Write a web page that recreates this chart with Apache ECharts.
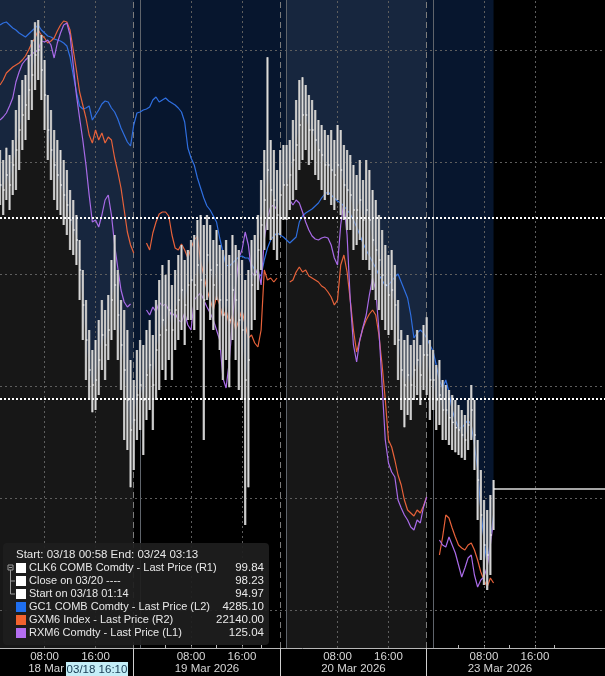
<!DOCTYPE html>
<html><head><meta charset="utf-8">
<script src="https://cdn.jsdelivr.net/npm/echarts@6/dist/echarts.min.js"></script>
<style>html,body{margin:0;padding:0;background:#000;}#c{width:605px;height:676px;}</style>
</head><body><div id="c"></div>
<script>
// ---- axis labels / categories ----
const dayKeys = ['03/18','03/19','03/20','03/23','03/24'];
const dateLabels = ['18 Mar 2026','19 Mar 2026','20 Mar 2026','23 Mar 2026',''];
const timeTickLabels = ['08:00','16:00'];
const minorTickTimes = ['00:00','04:00','08:00','12:00','16:00','20:00'];
const dateLabelTime = '10:30';
const bandRanges = [['03/18 01:00','03/18 23:00'],['03/20 00:00','03/20 23:00']];

// half-hour trading slots (17:00-18:00 break removed), 03/18 01:00 .. 03/24 04:00
const categories = [];
for (let k = 2; k <= 192; k++) {
  const t = k / 2, d = Math.floor(t / 23), h = t - 23 * d;
  const clock = h < 17 ? h : h + 1;
  const hh = Math.floor(clock), mm = (clock % 1) ? '30' : '00';
  categories.push(dayKeys[d] + ' ' + String(hh).padStart(2, '0') + ':' + mm);
}

// ---- series values ----
const clkHigh = [99.45,99.27,99.49,99.36,99.63,100.17,100.44,100.71,100.80,101.16,
101.43,101.75,101.79,101.52,101.07,100.44,100.17,99.81,99.63,99.45,
99.27,99.09,98.73,98.55,98.28,97.83,97.29,96.75,96.21,95.85,
96.03,96.39,96.75,96.57,96.84,97.47,97.92,97.29,96.75,96.57,
96.21,95.67,95.31,95.85,96.03,95.94,96.21,96.39,96.12,96.75,
97.11,97.38,97.20,97.47,97.02,97.29,97.56,97.74,97.47,97.65,
97.83,97.92,98.19,98.28,98.10,98.28,98.10,97.83,98.01,97.74,
97.65,97.83,97.56,97.92,97.74,97.65,97.47,97.11,97.29,97.83,
97.92,98.28,98.91,99.45,101.12,99.63,99.45,99.09,99.45,99.54,
99.54,99.63,99.99,100.35,100.71,100.76,100.62,100.44,100.35,100.17,
99.99,99.90,99.81,99.72,99.81,99.63,99.90,99.81,99.54,99.45,
99.36,99.18,99.00,99.27,98.91,99.27,99.09,98.73,98.55,98.28,
98.01,97.74,97.56,97.65,97.38,96.75,96.21,96.03,96.12,95.94,
96.03,96.21,95.94,96.30,96.44,96.03,95.85,95.58,95.67,95.31,
95.22,95.13,95.04,94.95,94.86,94.77,94.68,94.95,95.22,94.95,
94.23,93.69,93.15,92.97,93.24,93.51];
const clkLow = [98.46,98.28,98.55,98.37,98.64,98.73,99.09,99.45,99.63,99.99,
100.17,100.53,100.71,100.35,99.81,99.27,98.91,98.55,98.37,98.28,
98.10,97.92,97.65,97.56,97.38,96.75,96.03,95.31,94.95,94.73,
94.77,95.04,95.49,95.31,95.67,96.03,96.21,95.67,95.13,94.23,
94.05,93.38,93.69,94.23,94.41,93.96,94.59,94.77,94.41,94.95,
95.13,95.49,95.31,95.67,95.31,95.85,96.03,96.21,95.94,96.39,
96.39,96.21,96.57,96.03,94.23,96.75,96.39,96.21,96.75,95.85,
95.31,95.67,95.18,96.03,95.67,95.13,94.95,92.70,93.38,96.21,
96.39,96.93,97.29,97.65,98.01,97.83,97.65,97.47,97.92,98.19,
98.19,98.37,98.55,98.73,99.09,99.27,99.45,99.18,99.27,99.00,
98.91,98.73,98.55,98.64,98.46,98.37,98.55,98.28,98.19,98.01,
98.01,97.65,97.74,97.83,97.47,97.47,97.29,96.93,96.75,96.57,
96.39,96.21,96.12,96.21,95.94,95.31,94.77,94.46,94.68,94.59,
94.95,95.04,94.86,95.13,95.04,94.59,94.77,94.41,94.50,94.23,
94.23,94.14,94.05,94.01,93.96,93.91,93.87,94.05,94.23,93.69,
92.79,92.07,91.62,91.53,91.80,92.61];
const clkClose = [98.82,98.73,99.00,98.82,99.18,99.45,99.81,100.08,100.26,100.53,
100.80,101.16,101.25,100.89,100.44,99.81,99.45,99.18,99.00,98.82,
98.64,98.46,98.19,98.01,97.83,97.29,96.66,96.03,95.49,95.22,
95.31,95.67,96.12,95.94,96.21,96.75,97.02,96.48,95.94,95.49,
94.95,94.41,94.59,95.04,95.22,94.95,95.40,95.58,95.22,95.85,
96.12,96.39,96.21,96.57,96.21,96.57,96.75,96.93,96.66,97.02,
97.11,97.02,97.38,97.11,96.75,97.56,97.29,97.02,97.38,96.75,
96.48,96.75,96.39,96.93,96.75,96.39,96.21,95.31,95.67,97.02,
97.20,97.65,98.10,98.55,99.09,98.73,98.55,98.28,98.64,98.82,
98.82,99.00,99.27,99.54,99.90,100.08,100.08,99.81,99.81,99.63,
99.45,99.36,99.18,99.18,99.09,99.00,99.18,99.09,98.82,98.73,
98.64,98.37,98.37,98.55,98.19,98.37,98.19,97.83,97.65,97.47,
97.20,97.02,96.84,96.93,96.66,96.03,95.49,95.22,95.40,95.22,
95.49,95.67,95.40,95.76,95.76,95.31,95.31,94.95,95.04,94.77,
94.77,94.63,94.55,94.45,94.41,94.32,94.23,94.50,94.77,94.32,
93.51,92.88,92.34,92.16,92.52,93.35];
const gc1 = [4527.5,4528.5,4529,4527.5,4526,4525,4523.5,4522.5,4521.5,4523,
4524.5,4526,4527.5,4525,4523.5,4522,4521.5,4520.5,4520,4519.5,
4518.5,4517,4511.5,4502.5,4494,4487,4485.5,4486,4487,4480,
4482.5,4485,4488,4489.5,4489,4486,4484,4480.5,4476,4472.5,
4469,4467,4477.5,4483.5,4484,4485,4485.5,4486.5,4490,4491.5,
4489,4490,4491,4489.5,4488.5,4487.5,4486,4484,4479,4466,
4461,4457.5,4451,4446,4441,4437,4435,4432,4429,4421,
4414,4407.5,4407,4408.5,4410,4411.5,4412,4411,4411,4408,
4405,4403,4402,4410,4416,4420,4422,4423.5,4422.5,4421.5,
4420,4418.5,4420,4421.5,4429,4432,4433.5,4434.5,4435.5,4437,
4438.5,4441,4443,4444,4442.5,4441,4439.5,4438.5,4437,4435,
4433,4430,4426.5,4422.5,4418.5,4415,4412,4409,4406,4402.5,
4400,4397,4397.5,4399.5,4401.5,4403,4399,4395,4391,4382.5,
4371,4373.5,4375,4373.5,4371,4367.5,4364.5,4357.5,4350,4346,
4350,4344,4335,4330,4326,4326,4328,4330,4327.5,4317.5,
4305,4285,4270,4257.5,4270,4282.5];
const gxm6 = [23130,23140,23154,23160,23166,23170,23174,23180,23188,23200,
23214,23224,23240,23230,23224,23214,23218,23224,23238,23250,
23258,23256,23240,23200,23160,23116,23090,23064,23030,23014,
23040,23020,23034,23014,23026,23020,22984,22956,22924,22880,
22836,22810,22794,null,null,null,22814,22800,22834,22856,
22872,22876,22876,22868,22830,22804,22800,22812,22800,22784,
22804,22820,22828,22776,22750,22720,22700,22680,22708,22690,
22664,22680,22650,22670,22640,22660,22680,22650,22624,22630,
22614,22606,22640,22760,22740,22744,22736,22744,null,null,
null,22736,22740,22756,22766,22756,22760,22748,22744,22740,
22736,22728,22724,22716,22706,22690,22700,22770,22790,22756,
22700,22640,22596,22620,22644,22660,22672,22680,22670,22630,
22570,22500,22420,22406,22380,22350,22330,22300,22280,22274,
22268,22280,22274,22288,22306,null,null,null,22190,22226,
22270,22264,22244,22226,22210,22204,22200,22210,22214,22200,
22180,22156,22140,22126,22144,22134];
const rxm6 = [127.04,127.055,127.075,127.11,127.15,127.23,127.28,127.32,127.34,127.355,
127.37,127.38,127.39,127.435,127.43,127.44,127.415,127.35,127.425,127.475,
127.515,127.525,127.465,127.315,127.165,127.05,126.94,126.815,126.665,126.53,
126.54,126.505,126.565,126.64,126.665,126.565,126.415,126.30,126.19,126.13,
126.105,126.12,null,null,null,null,126.09,126.065,126.105,126.08,
126.13,126.11,126.12,126.09,126.06,126.075,126.04,126.03,126.075,126.015,
125.99,126.14,126.16,126.175,126.14,126.105,126.075,126.04,125.99,125.94,
125.75,125.70,125.83,126.04,126.215,126.35,126.39,126.48,126.415,126.28,
126.26,126.30,126.215,126.44,126.55,126.605,126.615,126.59,null,null,
null,126.64,126.615,126.64,126.625,126.58,126.53,126.49,126.46,126.445,
126.44,126.45,126.455,126.45,126.415,126.35,126.315,126.515,126.63,126.465,
126.14,125.915,125.83,125.94,126.005,126.065,126.165,126.25,126.19,125.99,
125.715,125.44,125.325,125.28,125.255,125.14,125.10,125.065,125.04,125.005,
124.99,125.04,125.025,125.105,125.155,null,null,null,124.94,124.915,
124.905,124.955,124.915,124.875,124.815,124.755,124.80,124.85,124.865,124.765,
124.705,124.74,124.755,124.805,124.915,125.04];

const refLines = [98.23, 94.97];            // Close on 03/20, Start on 03/18 01:14
const gridValues = [101.25, 99.23, 97.22, 95.20, 93.19, 91.17];

// ---- legend text ----
const legendTitle = 'Start: 03/18 00:58 End: 03/24 03:13';
const legendNames = ['CLK6 COMB Comdty - Last Price (R1)','Close on 03/20 ----','Start on 03/18 01:14',
  'GC1 COMB Comdty - Last Price (L2)','GXM6 Index - Last Price (R2)','RXM6 Comdty - Last Price (L1)'];
const legendValues = ['99.84','98.23','94.97','4285.10','22140.00','125.04'];
const legendColors = ['#ffffff','#ffffff','#ffffff','#1f6ff0','#f2622e','#b36df0'];
const crosshairLabel = '03/18 16:10';

// ---- helpers ----
const tm = c => c.slice(6), dk = c => c.slice(0, 5);
const isTimeTick = i => timeTickLabels.includes(tm(categories[i])) && dk(categories[i]) !== '03/24';
const isMinorTick = i => minorTickTimes.includes(tm(categories[i])) && dk(categories[i]) !== '03/24';
const isDateLabel = i => tm(categories[i]) === dateLabelTime && dk(categories[i]) !== '03/24';
const dashedSeps = dayKeys.slice(0, 3).map(d => d + ' 23:00');
const solidSeps = dayKeys.slice(1, 4).map(d => d + ' 00:00');
const isSepTick = i => dashedSeps.includes(categories[i]);
const vGrid = categories.filter((c, i) => isTimeTick(i));
const lastIdx = clkClose.length - 1;
const lastPrice = clkClose[lastIdx];

const bandData = bandRanges.map(r => [categories.indexOf(r[0]), categories.indexOf(r[1])]);
const barData = clkHigh.map((h, i) => [i, h, clkLow[i], clkClose[i]]);

const FONT = 'Liberation Sans';
const LFONT = '11px ' + FONT;
const chart = echarts.init(document.getElementById('c'));

const graphic = [];
graphic.push({type:'rect', x:3, y:543, shape:{width:266, height:102, r:4}, style:{fill:'rgba(30,30,30,0.93)'}, z:100});
graphic.push({type:'text', x:16, y:555, style:{text:legendTitle, fill:'#e8e8e8', font:'11.5px ' + FONT, verticalAlign:'middle'}, z:101});
legendNames.forEach((n, k) => {
  const y = 568 + 13 * k;
  graphic.push({type:'rect', x:16, y:y - 5, shape:{width:10, height:10}, style:{fill:legendColors[k]}, z:101});
  graphic.push({type:'text', x:29, y:y, style:{text:n, fill:'#e8e8e8', font:LFONT, verticalAlign:'middle'}, z:101});
  graphic.push({type:'text', x:264, y:y, style:{text:legendValues[k], fill:'#e8e8e8', font:'11.5px ' + FONT, align:'right', verticalAlign:'middle'}, z:101});
});
// tree connector
graphic.push({type:'rect', x:8, y:565, shape:{width:5, height:5}, style:{fill:'none', stroke:'#9a9a9a', lineWidth:1}, z:101});
graphic.push({type:'line', shape:{x1:9, y1:567.5, x2:12, y2:567.5}, style:{stroke:'#9a9a9a', lineWidth:1}, z:101});
graphic.push({type:'polyline', shape:{points:[[10.5,570],[10.5,594],[15,594]]}, style:{stroke:'#9a9a9a', lineWidth:1, fill:'none'}, z:101});
graphic.push({type:'line', shape:{x1:10.5, y1:581, x2:15, y2:581}, style:{stroke:'#9a9a9a', lineWidth:1}, z:101});
// crosshair date label
graphic.push({type:'rect', x:66, y:662, shape:{width:62, height:14}, style:{fill:'#c4eef7'}, z:100});
graphic.push({type:'text', x:97, y:669.5, style:{text:crosshairLabel, fill:'#173a52', font:'11.5px ' + FONT, align:'center', verticalAlign:'middle'}, z:101});

const option = {
  backgroundColor: '#000',
  animation: false,
  textStyle: {fontFamily: FONT},
  grid: {left: 0, right: 0, top: 0, bottom: 28, containLabel: false},
  xAxis: [
    {type:'category', data:categories, boundaryGap:false,
     axisLine:{show:true, lineStyle:{color:'#b8b8b8', width:1}},
     axisTick:{show:true, inside:true, length:3, interval:(i) => isMinorTick(i), lineStyle:{color:'#b8b8b8'}},
     axisLabel:{show:true, interval:(i) => isTimeTick(i), formatter:v => tm(v), color:'#d6d6d6', fontSize:11.5, fontFamily:FONT, margin:3},
     splitLine:{show:false}},
    {type:'category', data:categories, boundaryGap:false, position:'bottom',
     axisLine:{show:false},
     axisTick:{show:true, inside:false, length:28, interval:(i) => isSepTick(i), lineStyle:{color:'#cfcfcf'}},
     axisLabel:{show:true, interval:(i) => isDateLabel(i), formatter:v => dateLabels[dayKeys.indexOf(dk(v))], color:'#d6d6d6', fontSize:11.5, fontFamily:FONT, margin:15},
     splitLine:{show:false}}
  ],
  yAxis: [
    {type:'value', min:90.486, max:102.15, show:false},
    {type:'value', min:4216, max:4540, show:false},
    {type:'value', min:22004, max:23300, show:false},
    {type:'value', min:124.40, max:127.64, show:false}
  ],
  series: [
    {type:'custom', name:'bands', yAxisIndex:0, z:1, silent:true, data:bandData, encode:{x:[0,1]},
     renderItem:(params, api) => {
       const a = api.coord([api.value(0), 95])[0], b = api.coord([api.value(1), 95])[0];
       const cs = params.coordSys;
       return {type:'rect', shape:{x:a, y:cs.y, width:b - a, height:cs.height}, style:{fill:'#171717'}};
     }},
    {type:'line', name:'CLK6 fill', data:clkClose, yAxisIndex:0, symbol:'none', showSymbol:false, silent:true, z:2,
     lineStyle:{width:0}, areaStyle:{origin:'end', color:'rgba(25,75,155,0.42)'},
     markLine:{silent:true, symbol:'none', z:3, label:{show:false}, animation:false,
       lineStyle:{color:'#5e5e5e', type:[2,3], width:1},
       data:[].concat(
         gridValues.map(v => ({yAxis:v})),
         vGrid.map(c => ({xAxis:c})),
         dashedSeps.map(c => ({xAxis:c, lineStyle:{color:'#7c7c7c', type:[6,4], width:1}})),
         solidSeps.map(c => ({xAxis:c, lineStyle:{color:'#5f646b', type:'solid', width:1}}))
       )}},
    {type:'line', name:'GC1', data:gc1, yAxisIndex:1, symbol:'none', z:4, lineStyle:{color:'#2f6fe0', width:1.2}},
    {type:'line', name:'GXM6', data:gxm6, yAxisIndex:2, symbol:'none', z:4, lineStyle:{color:'#e8623a', width:1.2}},
    {type:'line', name:'RXM6', data:rxm6, yAxisIndex:3, symbol:'none', z:4, lineStyle:{color:'#a96be8', width:1.2}},
    {type:'custom', name:'CLK6', data:barData, yAxisIndex:0, z:5, encode:{x:0, y:[1,2]},
     renderItem:(params, api) => {
       const hi = api.coord([api.value(0), api.value(1)]);
       const lo = api.coord([api.value(0), api.value(2)]);
       const cl = api.coord([api.value(0), api.value(3)]);
       const h = Math.max(1, lo[1] - hi[1]);
       return {type:'group', children:[
         {type:'rect', shape:{x:hi[0] - 1.2, y:hi[1], width:2.4, height:h}, style:{fill:'#a8a8a8'}},
         {type:'rect', shape:{x:hi[0] - 0.5, y:hi[1], width:1, height:h}, style:{fill:'#dedede'}},
         {type:'rect', shape:{x:hi[0], y:cl[1] - 0.5, width:1.6, height:1}, style:{fill:'#ffffff'}}
       ]};
     },
     markLine:{silent:true, symbol:'none', z:10, label:{show:false}, animation:false,
       lineStyle:{color:'#ffffff', type:[2,2], width:2},
       data:[].concat(
         refLines.map(v => ({yAxis:v})),
         [[{coord:[lastIdx, lastPrice]}, {coord:[categories.length - 1, lastPrice], lineStyle:{color:'#dcdcdc', type:'solid', width:1.5}}]]
       )}}
  ],
  graphic: graphic
};
chart.setOption(option);
</script>
</body></html>
